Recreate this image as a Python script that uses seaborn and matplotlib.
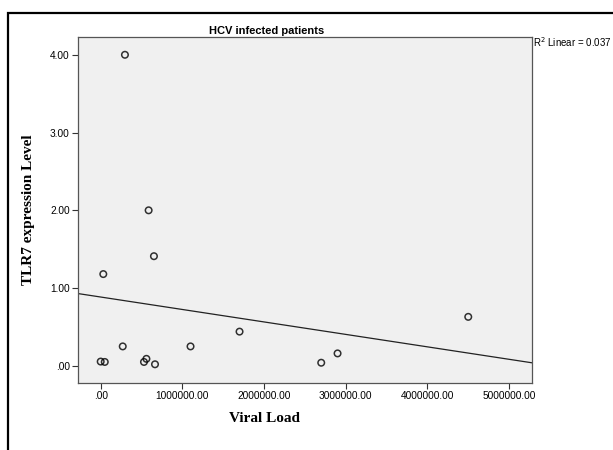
import numpy as np
import pandas as pd
import seaborn as sns
import matplotlib.pyplot as plt
from matplotlib.patches import Rectangle
from matplotlib.ticker import FuncFormatter

# data
viral_load = [0, 50000, 32000, 270000, 297000, 530000, 560000, 587000, 652000, 665000,
              1100000, 1700000, 2700000, 2900000, 4500000]
tlr7_level = [0.055, 0.05, 1.18, 0.25, 4.00, 0.05, 0.09, 2.00, 1.41, 0.02,
              0.25, 0.44, 0.04, 0.16, 0.63]
x_ticks = [0, 1000000, 2000000, 3000000, 4000000, 5000000]
y_ticks = [0, 1, 2, 3, 4]

df = pd.DataFrame({'Viral Load': viral_load, 'TLR7': tlr7_level})

sns.set_style('ticks')
plt.rcParams['font.family'] = ['Liberation Sans', 'DejaVu Sans']
plt.rcParams['text.color'] = 'black'
plt.rcParams['axes.labelcolor'] = 'black'

fig = plt.figure(figsize=(6.13, 4.5), dpi=100)
ax = fig.add_axes([0.1272, 0.149, 0.7406, 0.769])
ax.set_facecolor('#f0f0f0')

# limits first so the fit line runs across the whole axis
ax.set_xlim(-278000, 5280000)
ax.set_ylim(-0.22, 4.23)

sns.regplot(data=df, x='Viral Load', y='TLR7', ax=ax, ci=None, truncate=False,
            scatter_kws={'facecolors': 'none', 'edgecolors': 'black', 's': 22, 'linewidths': 1.1},
            line_kws={'color': '#222222', 'linewidth': 0.9})

ax.set_xlim(-278000, 5280000)
ax.set_ylim(-0.22, 4.23)
ax.set_xticks(x_ticks)
ax.set_yticks(y_ticks)

def fmt(v, pos):
    s = f'{v:.2f}'
    return s[1:] if s.startswith('0') else s

ax.xaxis.set_major_formatter(FuncFormatter(fmt))
ax.yaxis.set_major_formatter(FuncFormatter(fmt))
ax.tick_params(direction='out', length=4, width=0.8, labelsize=7.3, color='#333333',
               labelcolor='black', pad=2)
for sp in ax.spines.values():
    sp.set_color('#555555')
    sp.set_linewidth(0.9)

ax.set_xlabel('Viral Load', family='Liberation Serif', fontweight='bold', fontsize=11, color='black')
ax.xaxis.set_label_coords(0.41, -0.085)
ax.set_ylabel('TLR7 expression Level', family='Liberation Serif', fontweight='bold', fontsize=11,
              color='black')
ax.yaxis.set_label_coords(-0.095, 0.5)
ax.set_title('HCV infected patients', fontsize=8, fontweight='bold', x=0.416, pad=2, color='black')

ax.text(1.003, 0.985, r'R$^2$ Linear = 0.037', transform=ax.transAxes,
        fontsize=7, ha='left', va='center', color='black')

# outer chart frame, cut at the right and bottom
fig.add_artist(Rectangle((8 / 613, -0.05), 1.1, 1 - 13 / 450 + 0.05,
                         transform=fig.transFigure, fill=False,
                         edgecolor='black', linewidth=1.6, clip_on=False))

fig.savefig('out.png', dpi=100)
